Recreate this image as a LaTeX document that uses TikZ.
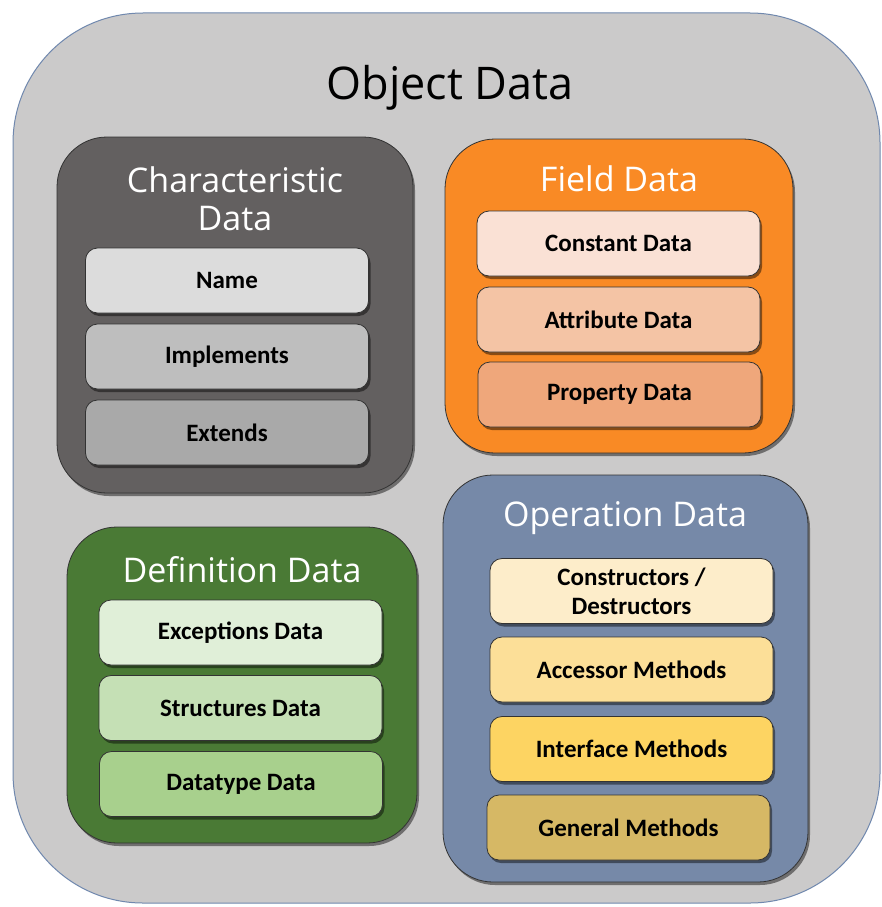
\documentclass[tikz,border=0pt]{standalone}
\usepackage{fontspec}
\setmainfont{Carlito}
\newfontfamily\headfont{Open Sans}
\usetikzlibrary{shadows}
\definecolor{outerfill}{HTML}{CBCACA}
\definecolor{outerline}{HTML}{7088AE}
\definecolor{charfill}{HTML}{636060}
\definecolor{fieldfill}{HTML}{F98A25}
\definecolor{deffill}{HTML}{4A7A35}
\definecolor{opfill}{HTML}{7689A8}
\definecolor{iName}{HTML}{DCDCDC}
\definecolor{iImpl}{HTML}{BEBEBE}
\definecolor{iExt}{HTML}{A9A9A9}
\definecolor{iConst}{HTML}{FAE1D5}
\definecolor{iAttr}{HTML}{F4C4A5}
\definecolor{iProp}{HTML}{EFA77B}
\definecolor{iExc}{HTML}{E0EFD8}
\definecolor{iStr}{HTML}{C5E0B5}
\definecolor{iDat}{HTML}{A8D08D}
\definecolor{iCon}{HTML}{FDEDCA}
\definecolor{iAcc}{HTML}{FCDF98}
\definecolor{iInt}{HTML}{FDD462}
\definecolor{iGen}{HTML}{D6B865}
\tikzset{
  outerbox/.style={draw=outerline, line width=1pt, fill=outerfill, rounded corners=130pt, minimum width=867pt, minimum height=890pt, inner sep=0pt},
  groupbox/.style={draw=black!80, line width=0.8pt, rounded corners=50pt, inner sep=0pt,
    drop shadow={shadow xshift=2pt, shadow yshift=-3pt, opacity=0.45, fill=black}},
  itembox/.style={draw=black!80, line width=0.8pt, rounded corners=12pt, inner sep=0pt,
    minimum width=283pt, minimum height=65pt, align=center,
    font=\fontsize{25}{29}\selectfont\bfseries,
    drop shadow={shadow xshift=2pt, shadow yshift=-3pt, opacity=0.45, fill=black}},
  headtext/.style={text=white, align=center, font=\headfont\fontsize{34}{38}\selectfont},
}
\begin{document}
\begin{tikzpicture}[x=1pt,y=-1pt]
\useasboundingbox (0,0) rectangle (882,907);
\fill[white] (0,0) rectangle (882,907);
\node[outerbox] (outer) at (446.5,458) {};
\node[font=\headfont\fontsize{45}{50}\selectfont, text=black] (otitle) at (450,88) {Object Data};

% Characteristic
\node[groupbox, fill=charfill, minimum width=356pt, minimum height=356pt] (char) at (235,315) {};
\node[headtext] (chartitle) at (235,199) {Characteristic\\Data};
\node[itembox, fill=iName] (name) at (227,280.5) {Name};
\node[itembox, fill=iImpl] (impl) at (227,356.5) {Implements};
\node[itembox, fill=iExt] (ext) at (227,432.5) {Extends};

% Field
\node[groupbox, fill=fieldfill, minimum width=348pt, minimum height=314pt] (field) at (619,296) {};
\node[headtext] (fieldtitle) at (619,179) {Field Data};
\node[itembox, fill=iConst] (const) at (618.5,243.5) {Constant Data};
\node[itembox, fill=iAttr] (attr) at (618.5,319.5) {Attribute Data};
\node[itembox, fill=iProp] (prop) at (619.5,394.5) {Property Data};

% Definition
\node[groupbox, fill=deffill, minimum width=350pt, minimum height=316pt] (def) at (242,685) {};
\node[headtext] (deftitle) at (242,570) {Definition Data};
\node[itembox, fill=iExc] (exc) at (240.5,632.5) {Exceptions Data};
\node[itembox, fill=iStr] (str) at (240.5,708) {Structures Data};
\node[itembox, fill=iDat] (dat) at (241,784) {Datatype Data};

% Operation
\node[groupbox, fill=opfill, minimum width=365pt, minimum height=407pt] (op) at (625.5,678.5) {};
\node[headtext] (optitle) at (625,518) {Operation Data};
\node[itembox, fill=iCon] (con) at (631.5,591) {Constructors /\\Destructors};
\node[itembox, fill=iAcc] (acc) at (631.5,669.5) {Accessor Methods};
\node[itembox, fill=iInt] (int) at (631.5,749) {Interface Methods};
\node[itembox, fill=iGen] (gen) at (628.5,827.5) {General Methods};
\end{tikzpicture}
\end{document}
